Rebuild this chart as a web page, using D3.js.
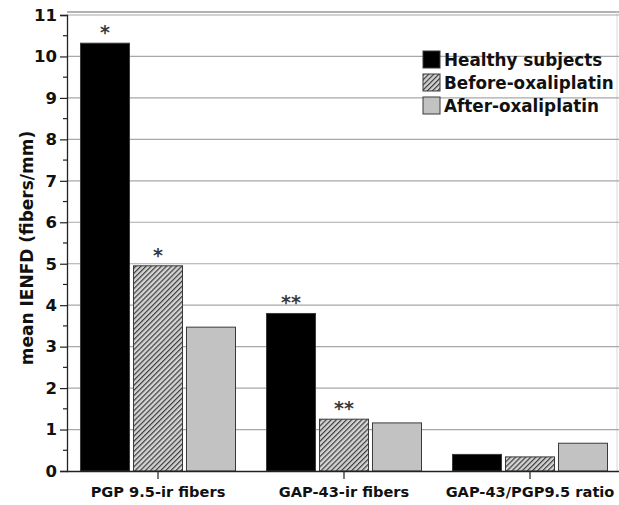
<!DOCTYPE html>
<html>
<head>
<meta charset="utf-8">
<script src="https://cdn.jsdelivr.net/npm/d3@7"></script>
<style>
  body { margin: 0; background: #fff; }
  text { font-family: "DejaVu Sans", sans-serif; font-weight: bold; }
</style>
</head>
<body>
<div id="chart"></div>
<script>
var svgWidth = 619;
var svgHeight = 505;

// data
var categories = ["PGP 9.5-ir fibers", "GAP-43-ir fibers", "GAP-43/PGP9.5 ratio"];
var seriesNames = ["Healthy subjects", "Before-oxaliplatin", "After-oxaliplatin"];
var healthy = [10.32, 3.8, 0.4];
var beforeOx = [4.95, 1.25, 0.34];
var afterOx = [3.47, 1.16, 0.67];
var yTicks = [0, 1, 2, 3, 4, 5, 6, 7, 8, 9, 10, 11];
// significance marks: [category index, series index, label]
var stars = [[0, 0, "*"], [0, 1, "*"], [1, 0, "**"], [1, 1, "**"]];

var seriesValues = [healthy, beforeOx, afterOx];

var svg = d3.select("#chart")
    .append("svg")
    .attr("width", svgWidth)
    .attr("height", svgHeight);

// hatch pattern
var defs = svg.append("defs");
var pat = defs.append("pattern")
    .attr("id", "hatch")
    .attr("patternUnits", "userSpaceOnUse")
    .attr("width", 3.6)
    .attr("height", 3.6)
    .attr("patternTransform", "rotate(45)");
pat.append("rect").attr("width", 3.6).attr("height", 3.6).attr("fill", "#d4d4d4");
pat.append("line")
    .attr("x1", 0).attr("y1", 0).attr("x2", 0).attr("y2", 3.6)
    .attr("stroke", "#3c3c3c").attr("stroke-width", 2.4);

var fills = ["#000000", "url(#hatch)", "#c2c2c2"];

// scales
var x0 = d3.scaleBand()
    .domain(categories)
    .range([65, 623])
    .paddingInner(0.1667)
    .paddingOuter(0.0833);

var x1 = d3.scaleBand()
    .domain(d3.range(seriesNames.length))
    .range([0, x0.bandwidth()])
    .paddingInner(0.075)
    .paddingOuter(0);

var y = d3.scaleLinear()
    .domain([0, 11])
    .range([471, 15]);

var axisX = 67;

// top frame and right frame
svg.append("line")
    .attr("x1", axisX).attr("x2", svgWidth)
    .attr("y1", 12).attr("y2", 12)
    .attr("stroke", "#666").attr("stroke-width", 1.2);
svg.append("line")
    .attr("x1", 617).attr("x2", 617)
    .attr("y1", 12).attr("y2", 471)
    .attr("stroke", "#d8d8d8").attr("stroke-width", 1);

// gridlines
svg.append("g")
    .selectAll("line")
    .data(yTicks.filter(d => d > 0))
    .enter()
    .append("line")
    .attr("x1", axisX).attr("x2", svgWidth)
    .attr("y1", d => y(d)).attr("y2", d => y(d))
    .attr("stroke", "#a8a8a8")
    .attr("stroke-width", 1.2);

// bars
var groups = svg.append("g")
    .selectAll("g")
    .data(categories)
    .enter()
    .append("g")
    .attr("transform", d => `translate(${x0(d)},0)`);

groups.selectAll("rect")
    .data((d, i) => seriesValues.map((s, j) => ({ series: j, value: s[i] })))
    .enter()
    .append("rect")
    .attr("x", d => x1(d.series))
    .attr("width", x1.bandwidth())
    .attr("y", d => y(d.value))
    .attr("height", d => y(0) - y(d.value))
    .attr("fill", d => fills[d.series])
    .attr("stroke", "#3a3a3a")
    .attr("stroke-width", 1);

// stars
svg.append("g")
    .selectAll("text")
    .data(stars)
    .enter()
    .append("text")
    .attr("x", d => x0(categories[d[0]]) + x1(d[1]) + x1.bandwidth() / 2)
    .attr("y", d => y(seriesValues[d[1]][d[0]]) - 4)
    .attr("text-anchor", "middle")
    .attr("font-size", "19px")
    .attr("fill", "#3a3a3a")
    .text(d => d[2]);

// y axis
var leftAxis = d3.axisLeft(y)
    .tickValues(yTicks)
    .tickSize(7)
    .tickPadding(3)
    .tickFormat(d3.format("d"));

var yAxisG = svg.append("g")
    .attr("transform", `translate(${axisX},0)`)
    .call(leftAxis);
yAxisG.select(".domain").attr("stroke", "#222").attr("stroke-width", 1.3);
yAxisG.selectAll(".tick line").attr("stroke", "#222").attr("stroke-width", 1.2);
yAxisG.selectAll(".tick text")
    .attr("font-size", "16.5px")
    .attr("font-family", "DejaVu Sans, sans-serif")
    .attr("font-weight", "bold")
    .attr("fill", "#111");

// minor ticks
svg.append("g")
    .selectAll("line")
    .data(yTicks.slice(0, -1).map(d => d + 0.5))
    .enter()
    .append("line")
    .attr("x1", axisX - 4).attr("x2", axisX)
    .attr("y1", d => y(d)).attr("y2", d => y(d))
    .attr("stroke", "#222").attr("stroke-width", 1.2);

// x axis
var bottomAxis = d3.axisBottom(x0)
    .tickSize(8)
    .tickPadding(8)
    .tickSizeOuter(0);
var xAxisG = svg.append("g")
    .attr("transform", `translate(0,${y(0)})`)
    .call(bottomAxis);
xAxisG.select(".domain").attr("d", `M${axisX},0.5H${svgWidth}`).attr("stroke", "#222").attr("stroke-width", 1.3);
xAxisG.selectAll(".tick line").attr("stroke", "#222").attr("stroke-width", 1.2);
xAxisG.selectAll(".tick text")
    .attr("font-size", "14.6px")
    .attr("font-family", "DejaVu Sans, sans-serif")
    .attr("font-weight", "bold")
    .attr("fill", "#111");

// y axis label
svg.append("text")
    .attr("transform", "translate(33,248) rotate(-90)")
    .attr("text-anchor", "middle")
    .attr("font-size", "17px")
    .attr("fill", "#111")
    .text("mean IENFD (fibers/mm)");

// legend
var legend = svg.append("g")
    .attr("transform", "translate(423,51)");
var items = legend.selectAll("g")
    .data(seriesNames)
    .enter()
    .append("g")
    .attr("transform", (d, i) => `translate(0,${i * 23})`);
items.append("rect")
    .attr("width", 17)
    .attr("height", 17)
    .attr("fill", (d, i) => fills[i])
    .attr("stroke", "#3a3a3a")
    .attr("stroke-width", 1);
items.append("text")
    .attr("x", 21)
    .attr("y", 15)
    .attr("font-size", "16.8px")
    .attr("fill", "#111")
    .text(d => d);
</script>
</body>
</html>
